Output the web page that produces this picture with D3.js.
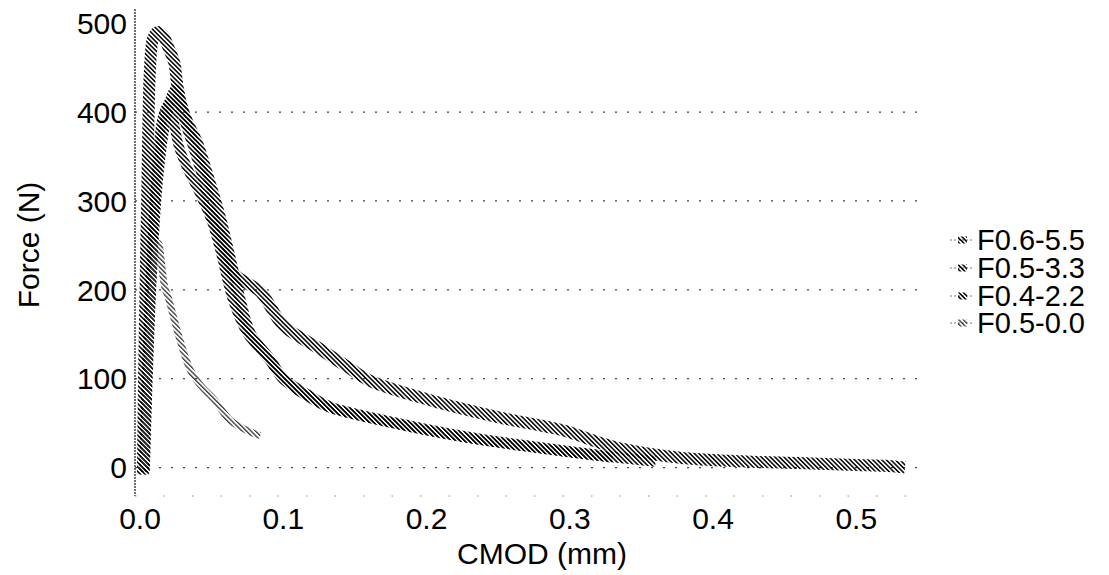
<!DOCTYPE html>
<html>
<head>
<meta charset="utf-8">
<script src="https://cdn.jsdelivr.net/npm/d3@7"></script>
<style>
  body { margin: 0; background: #fff; }
  text { font-family: "Liberation Sans", Arial, sans-serif; fill: #000; }
</style>
</head>
<body>
<div id="chart"></div>
<script>
// series names (legend order)
var names = ['F0.6-5.5', 'F0.5-3.3', 'F0.4-2.2', 'F0.5-0.0'];

// CMOD (mm) / Force (N)
var cmod_65 = [0.002, 0.003, 0.005, 0.007, 0.009, 0.012, 0.016, 0.020, 0.024, 0.026, 0.030, 0.038, 0.045, 0.050, 0.057, 0.063, 0.074, 0.084, 0.100, 0.126, 0.147, 0.160, 0.202, 0.249, 0.295, 0.321, 0.337, 0.377, 0.420, 0.460, 0.500, 0.520, 0.534];
var force_65 = [-8, 120, 300, 450, 482, 490, 486, 472, 455, 430, 400, 360, 323, 286, 259, 222, 208, 198, 160, 133, 111, 98, 76, 57, 42, 28, 21, 11, 7, 5, 3, 2, 0];

var cmod_53 = [0.003, 0.005, 0.008, 0.012, 0.017, 0.021, 0.025, 0.028, 0.033, 0.040, 0.047, 0.056, 0.063, 0.070, 0.077, 0.091, 0.100, 0.121, 0.133, 0.179, 0.226, 0.272, 0.330, 0.360];
var force_53 = [-5, 100, 220, 320, 385, 412, 425, 412, 390, 366, 331, 282, 235, 188, 151, 121, 100, 78, 68, 50, 35, 24, 12, 7];

var cmod_42 = [0.003, 0.006, 0.009, 0.012, 0.016, 0.021, 0.023, 0.027, 0.033, 0.042, 0.050, 0.056, 0.065, 0.075, 0.091, 0.100, 0.121, 0.133, 0.179, 0.226, 0.272, 0.330];
var force_42 = [-5, 150, 260, 340, 395, 411, 395, 362, 337, 308, 278, 245, 188, 151, 120, 100, 76, 67, 49, 34, 23, 11];

var cmod_50 = [0.003, 0.006, 0.010, 0.013, 0.015, 0.017, 0.020, 0.024, 0.028, 0.035, 0.042, 0.052, 0.063, 0.077, 0.084];
var force_50 = [0, 120, 230, 252, 230, 205, 190, 166, 143, 110, 93, 76, 53, 40, 36];

var xTicks = [0.0, 0.1, 0.2, 0.3, 0.4, 0.5];
var yTicks = [0, 100, 200, 300, 400, 500];
var gridTicks = [0, 100, 200, 300, 400];

var series = [
    { name: names[0], x: cmod_65, y: force_65, w: 12 },
    { name: names[1], x: cmod_53, y: force_53, w: 11 },
    { name: names[2], x: cmod_42, y: force_42, w: 10 },
    { name: names[3], x: cmod_50, y: force_50, w: 7 }
];

var width = 1109, height = 575;
var margin = { top: 9, right: 184, bottom: 79, left: 135 };

var svg = d3.select('#chart')
    .append('svg')
    .attr('width', width)
    .attr('height', height);

svg.append('rect')
    .attr('width', width)
    .attr('height', height)
    .attr('fill', 'white');

// diagonal hatch used to paint the curves
var defs = svg.append('defs');
defs.append('pattern')
    .attr('id', 'hatch')
    .attr('patternUnits', 'userSpaceOnUse')
    .attr('width', 3.2)
    .attr('height', 3.2)
    .attr('patternTransform', 'rotate(-45)')
    .append('rect')
    .attr('width', 1.5)
    .attr('height', 3.2)
    .attr('fill', '#000');
defs.append('pattern')
    .attr('id', 'hatchLight')
    .attr('patternUnits', 'userSpaceOnUse')
    .attr('width', 3.2)
    .attr('height', 3.2)
    .attr('patternTransform', 'rotate(-45)')
    .append('rect')
    .attr('width', 1.3)
    .attr('height', 3.2)
    .attr('fill', '#333');

var x = d3.scaleLinear()
    .domain([-0.0035, 0.548])
    .range([margin.left, width - margin.right]);

var y = d3.scaleLinear()
    .domain([-32, 516])
    .range([height - margin.bottom, margin.top]);

// gridlines
svg.append('g')
    .selectAll('line')
    .data(gridTicks)
    .enter()
    .append('line')
    .attr('x1', x.range()[0])
    .attr('x2', x.range()[1])
    .attr('y1', d => y(d))
    .attr('y2', d => y(d))
    .attr('stroke', '#444')
    .attr('stroke-width', 1.3)
    .attr('stroke-dasharray', '2,10');

// y axis line (dotted)
svg.append('line')
    .attr('x1', x.range()[0]).attr('x2', x.range()[0])
    .attr('y1', y.range()[1]).attr('y2', y.range()[0])
    .attr('stroke', '#222')
    .attr('stroke-width', 1.3)
    .attr('stroke-dasharray', '2,1');

// x axis line, barely visible in the original
svg.append('line')
    .attr('x1', x.range()[0]).attr('x2', x.range()[1])
    .attr('y1', y.range()[0]).attr('y2', y.range()[0])
    .attr('stroke', '#888')
    .attr('stroke-width', 1)
    .attr('stroke-dasharray', '1.5,27');

// tick labels
svg.append('g')
    .selectAll('text')
    .data(yTicks)
    .enter()
    .append('text')
    .attr('x', margin.left - 8)
    .attr('y', d => y(d))
    .attr('dy', '0.36em')
    .attr('text-anchor', 'end')
    .style('font-size', '30px')
    .text(d => d);

svg.append('g')
    .selectAll('text')
    .data(xTicks)
    .enter()
    .append('text')
    .attr('x', d => x(d))
    .attr('y', 518)
    .attr('dy', '0.36em')
    .attr('text-anchor', 'middle')
    .style('font-size', '30px')
    .text(d => d.toFixed(1));

// axis titles
svg.append('text')
    .attr('x', 542)
    .attr('y', 553)
    .attr('dy', '0.36em')
    .attr('text-anchor', 'middle')
    .style('font-size', '30px')
    .text('CMOD (mm)');

svg.append('text')
    .attr('transform', 'translate(28,245) rotate(-90)')
    .attr('dy', '0.36em')
    .attr('text-anchor', 'middle')
    .style('font-size', '30px')
    .text('Force (N)');

// curves
var line = d3.line()
    .x(d => x(d[0]))
    .y(d => y(d[1]))
    .curve(d3.curveCatmullRom.alpha(0.5));

series.forEach(function(s, i) {
    var pts = s.x.map((v, k) => [v, s.y[k]]);
    svg.append('path')
        .datum(pts)
        .attr('d', line)
        .attr('fill', 'none')
        .attr('stroke', i == 3 ? 'url(#hatchLight)' : 'url(#hatch)')
        .attr('stroke-width', s.w)
        .attr('stroke-linejoin', 'round');
});

// legend
var legY = [240, 268, 296, 323];
var leg = svg.append('g');
series.forEach(function(s, i) {
    leg.append('line')
        .attr('x1', 950).attr('x2', 974)
        .attr('y1', legY[i]).attr('y2', legY[i])
        .attr('stroke', '#777')
        .attr('stroke-width', 1)
        .attr('stroke-dasharray', '2,2');
    leg.append('line')
        .attr('x1', 958).attr('x2', 967)
        .attr('y1', legY[i]).attr('y2', legY[i])
        .attr('stroke', i == 3 ? 'url(#hatchLight)' : 'url(#hatch)')
        .attr('stroke-width', 7);
    leg.append('text')
        .attr('x', 977)
        .attr('y', legY[i])
        .attr('dy', '0.36em')
        .style('font-size', '29px')
        .text(s.name);
});
</script>
</body>
</html>
